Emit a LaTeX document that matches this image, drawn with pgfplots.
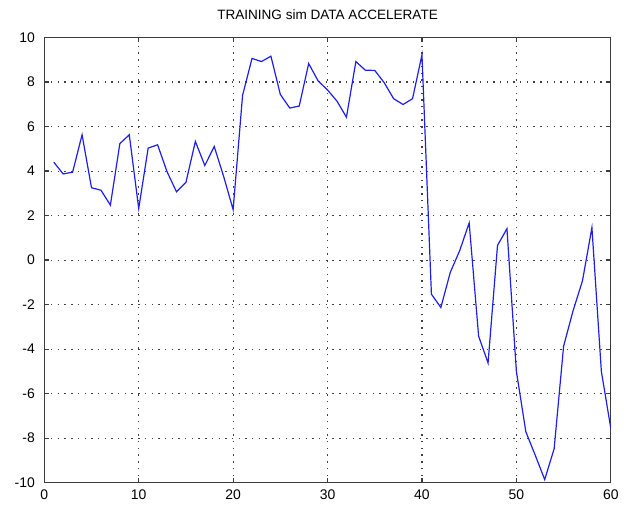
\documentclass[border=0pt]{standalone}
\usepackage{pgfplots}
\pgfplotsset{compat=1.18}
\usepackage{fontspec}
\setmainfont{Liberation Sans}
\definecolor{lineblue}{RGB}{30,30,235}
\definecolor{axisgray}{RGB}{60,60,60}

\begin{document}
\begin{tikzpicture}[x=1bp,y=1bp]
\useasboundingbox (-44.3,-22.3) rectangle (582.7,482.7);
\begin{axis}[
    at={(0,0)}, anchor=south west,
    scale only axis,
    width=566.5bp, height=445.2bp,
    xmin=0, xmax=60, ymin=-10, ymax=10,
    xtick={0,10,...,60},
    ytick={-10,-8,...,10},
    tick pos=both,
    tick align=inside,
    major tick length=5bp,
    grid=major,
    grid style={dash pattern=on 1.4bp off 5.3bp, color=black!75, line width=1.1bp},
    axis line style={color=axisgray, line width=1.2bp},
    tick style={color=axisgray, line width=1.2bp},
    font=\fontsize{14}{16}\selectfont,
    /pgf/number format/assume math mode=true,
    yticklabel style={xshift=-6bp},
    xticklabel style={yshift=-4bp},
    title={TRAINING sim DATA ACCELERATE},
    title style={at={(0.5,1)}, anchor=base, yshift=12.5bp, font=\fontsize{13.6}{16}\selectfont},
]
\addplot[color=lineblue, line width=1.2bp] coordinates {
    (1,4.40) (2,3.87) (3,3.95) (4,5.63) (5,3.25) (6,3.14) (7,2.47) (8,5.23) (9,5.63) (10,2.32)
    (11,5.03) (12,5.18) (13,3.97) (14,3.07) (15,3.49) (16,5.33) (17,4.25) (18,5.10) (19,3.75) (20,2.27)
    (21,7.40) (22,9.06) (23,8.92) (24,9.16) (25,7.44) (26,6.83) (27,6.92) (28,8.83) (29,8.05) (30,7.64)
    (31,7.14) (32,6.42) (33,8.92) (34,8.53) (35,8.52) (36,7.97) (37,7.25) (38,6.99) (39,7.25) (40,9.22)
    (41,-1.53) (42,-2.13) (43,-0.55) (44,0.43) (45,1.67) (46,-3.42) (47,-4.62) (48,0.66) (49,1.41) (50,-5.00)
    (51,-7.71) (52,-8.77) (53,-9.86) (54,-8.47) (55,-3.87) (56,-2.28) (57,-0.93) (58,1.46) (59,-5.00) (60,-7.56)
};
\end{axis}
\end{tikzpicture}
\end{document}
